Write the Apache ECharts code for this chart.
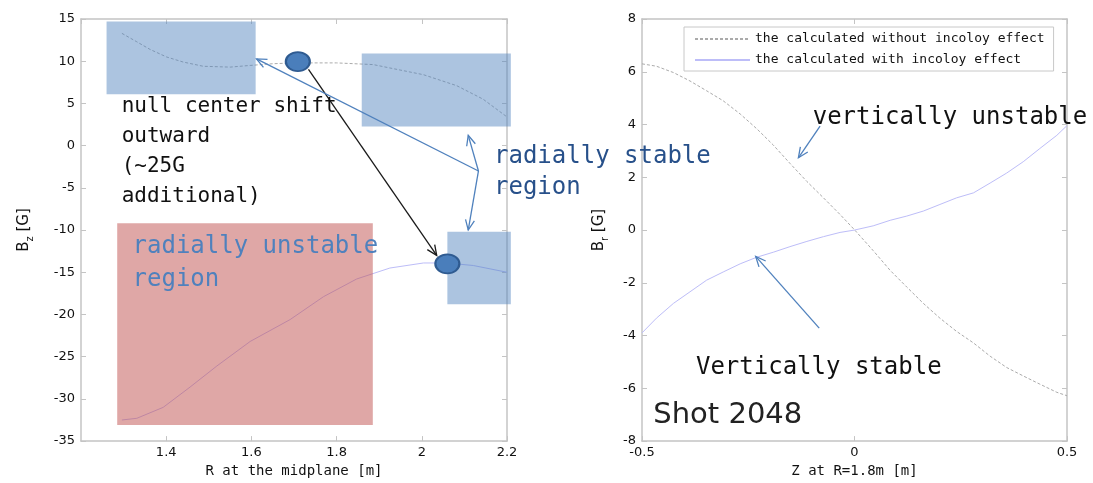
<!DOCTYPE html>
<html><head><meta charset="utf-8">
<script src="https://cdn.jsdelivr.net/npm/echarts@6/dist/echarts.min.js"></script>
<style>html,body{margin:0;padding:0;background:#fff}#c{width:1093px;height:483px}</style>
</head><body><div id="c"></div>
<script>
// ---------- data ----------
// Left panel: Bz [G] vs R at the midplane [m]
const leftXRange = [1.2, 2.2];
const leftYRange = [-35, 15];
const leftR_without = [1.296, 1.331, 1.362, 1.401, 1.440, 1.487, 1.550, 1.597, 1.650, 1.700, 1.738, 1.800, 1.886, 1.925, 2.004, 2.082, 2.144, 2.200];
const leftBz_without = [13.3, 12.3, 11.4, 10.5, 9.9, 9.4, 9.3, 9.5, 9.7, 9.8, 9.8, 9.8, 9.6, 9.2, 8.4, 7.1, 5.5, 3.4];
const leftR_with = [1.296, 1.331, 1.393, 1.456, 1.519, 1.597, 1.691, 1.769, 1.847, 1.925, 2.004, 2.058, 2.121, 2.200];
const leftBz_with = [-32.5, -32.3, -31.0, -28.6, -26.1, -23.2, -20.6, -17.9, -15.8, -14.5, -13.9, -13.9, -14.2, -15.0];
// shaded regions [R1, Bz1, R2, Bz2]
const stableRegions = [[1.260, 14.7, 1.610, 6.1], [1.859, 10.9, 2.209, 2.27], [2.060, -10.2, 2.209, -18.8]];
const unstableRegion = [[1.285, -9.2, 1.885, -33.1]];
// null centre markers [R, Bz]
const nullCenters = [[1.709, 9.96], [2.060, -14.0]];
// arrows [fromR, fromBz, toR, toBz]
const shiftArrow = [[1.734, 9.03, 2.035, -13.0]];
const stableArrows = [[2.133, -3.0, 1.612, 10.28], [2.133, -3.0, 2.109, 1.22], [2.133, -3.0, 2.109, -10.0]];

// Right panel: Br [G] vs Z at R=1.8m [m]
const rightXRange = [-0.5, 0.5];
const rightYRange = [-8, 8];
const rightZ = [-0.5, -0.466, -0.426, -0.387, -0.348, -0.309, -0.269, -0.230, -0.191, -0.152, -0.112, -0.073, -0.034, 0, 0.044, 0.084, 0.123, 0.162, 0.201, 0.240, 0.280, 0.319, 0.358, 0.397, 0.436, 0.476, 0.5];
const rightBr_without = [6.3, 6.21, 5.97, 5.65, 5.28, 4.90, 4.40, 3.84, 3.22, 2.53, 1.84, 1.22, 0.59, 0.01, -0.78, -1.53, -2.16, -2.78, -3.34, -3.84, -4.28, -4.78, -5.21, -5.53, -5.84, -6.15, -6.28];
const rightBr_with = [-3.90, -3.34, -2.78, -2.34, -1.90, -1.59, -1.28, -1.03, -0.84, -0.63, -0.43, -0.25, -0.09, 0.0, 0.16, 0.37, 0.53, 0.72, 0.97, 1.22, 1.41, 1.78, 2.16, 2.59, 3.09, 3.59, 3.96];
const rightArrows = [[-0.081, 3.94, -0.132, 2.74], [-0.083, -3.72, -0.2325, -1.00]];

const seriesNames = ['the calculated without incoloy effect', 'the calculated with incoloy effect'];
const leftXName = 'R at the midplane [m]';
const rightXName = 'Z at R=1.8m [m]';

// ---------- chart ----------
const MONO = '"DejaVu Sans Mono", monospace';
const SANS = '"DejaVu Sans", sans-serif';
const AX = '#c4c4c4';
const C_WITHOUT = '#ababab';
const C_WITH = '#bdbdf8';
const zip = (a, b) => a.map((v, i) => [v, b[i]]);

function xAxis(gi, range, interval, pos, label, name, showMin) {
  return {
    type: 'value', gridIndex: gi, min: range[0], max: range[1], interval, position: pos,
    axisLine: {show: true, onZero: false, lineStyle: {color: AX, width: 1.5}},
    axisTick: {show: true, inside: true, length: 5, lineStyle: {color: AX}},
    splitLine: {show: false},
    axisLabel: {show: label, showMinLabel: showMin, color: '#111', fontFamily: SANS, fontSize: 13, margin: 5},
    name: label ? name : '', nameLocation: 'middle', nameGap: 22,
    nameTextStyle: {fontFamily: MONO, fontSize: 14, color: '#111', verticalAlign: 'top'}
  };
}
function yAxis(gi, range, interval, pos, label, sub, gap) {
  return {
    type: 'value', gridIndex: gi, min: range[0], max: range[1], interval, position: pos,
    axisLine: {show: true, onZero: false, lineStyle: {color: AX, width: 1.5}},
    axisTick: {show: true, inside: true, length: 5, lineStyle: {color: AX}},
    splitLine: {show: false},
    axisLabel: {show: label, color: '#111', fontFamily: SANS, fontSize: 13, margin: 6},
    name: label ? '{n|B}{s|' + sub + '}{n| [G]}' : '', nameLocation: 'middle', nameGap: gap, nameRotate: 90,
    nameTextStyle: {color: '#111', rich: {
      n: {fontFamily: SANS, fontSize: 15, color: '#111', lineHeight: 22, verticalAlign: 'middle'},
      s: {fontFamily: SANS, fontSize: 10, color: '#111', lineHeight: 22, verticalAlign: 'bottom'}
    }}
  };
}

function rectSeries(xi, yi, data, color, opacity, z) {
  return {
    type: 'custom', xAxisIndex: xi, yAxisIndex: yi, silent: true, clip: false, z,
    dimensions: ['x1', 'y1', 'x2', 'y2'], encode: {x: [0, 2], y: [1, 3]}, data,
    renderItem: (p, api) => {
      const a = api.coord([api.value(0), api.value(1)]);
      const b = api.coord([api.value(2), api.value(3)]);
      return {type: 'rect', shape: {x: Math.min(a[0], b[0]), y: Math.min(a[1], b[1]), width: Math.abs(b[0] - a[0]), height: Math.abs(b[1] - a[1])},
        style: {fill: color, opacity}};
    }
  };
}
function arrowSeries(xi, yi, data, color, z) {
  return {
    type: 'custom', xAxisIndex: xi, yAxisIndex: yi, silent: true, clip: false, z,
    dimensions: ['x1', 'y1', 'x2', 'y2'], encode: {x: [0, 2], y: [1, 3]}, data,
    renderItem: (p, api) => {
      const a = api.coord([api.value(0), api.value(1)]);
      const b = api.coord([api.value(2), api.value(3)]);
      const ang = Math.atan2(b[1] - a[1], b[0] - a[0]);
      const L = 11, w = 0.42;
      const h1 = [b[0] - L * Math.cos(ang - w), b[1] - L * Math.sin(ang - w)];
      const h2 = [b[0] - L * Math.cos(ang + w), b[1] - L * Math.sin(ang + w)];
      return {type: 'group', children: [
        {type: 'line', shape: {x1: a[0], y1: a[1], x2: b[0], y2: b[1]}, style: {stroke: color, lineWidth: 1.3}},
        {type: 'polyline', shape: {points: [h1, b, h2]}, style: {stroke: color, lineWidth: 1.3, fill: null}}
      ]};
    }
  };
}
function textSeries(xi, yi, pos, text, font, color, lh) {
  return {
    type: 'custom', xAxisIndex: xi, yAxisIndex: yi, silent: true, clip: false, z: 10,
    data: [pos],
    renderItem: (p, api) => {
      const c = api.coord([api.value(0), api.value(1)]);
      return {type: 'text', x: c[0], y: c[1],
        style: {text, font, fill: color, align: 'left', verticalAlign: 'top', textAlign: 'left', textVerticalAlign: 'top', lineHeight: lh}};
    }
  };
}

const chart = echarts.init(document.getElementById('c'), null, {renderer: 'canvas'});
chart.setOption({
  animation: false,
  backgroundColor: '#fff',
  grid: [
    {left: 81, top: 19, width: 426, height: 427},
    {left: 642, top: 19, width: 425, height: 427}
  ],
  xAxis: [
    xAxis(0, leftXRange, 0.2, 'bottom', true, leftXName, false),
    xAxis(0, leftXRange, 0.2, 'top', false, '', false),
    xAxis(1, rightXRange, 0.5, 'bottom', true, rightXName, true),
    xAxis(1, rightXRange, 0.5, 'top', false, '', true)
  ],
  yAxis: [
    yAxis(0, leftYRange, 5, 'left', true, 'z', 46),
    yAxis(0, leftYRange, 5, 'right', false, 'z', 46),
    yAxis(1, rightYRange, 2, 'left', true, 'r', 32),
    yAxis(1, rightYRange, 2, 'right', false, 'r', 32)
  ],
  legend: {
    data: seriesNames, orient: 'vertical', left: 684, top: 27,
    padding: [5, 9, 4, 10], itemGap: 7, itemWidth: 55, itemHeight: 14,
    borderColor: '#c8c8c8', borderWidth: 1, backgroundColor: '#fff', selectedMode: false,
    itemStyle: {color: 'rgba(0,0,0,0)', borderColor: 'rgba(0,0,0,0)', borderWidth: 0, opacity: 0},
    textStyle: {fontFamily: MONO, fontSize: 13, color: '#111', lineHeight: 14}
  },
  series: [
    {name: 'left-without', type: 'line', xAxisIndex: 0, yAxisIndex: 0, data: zip(leftR_without, leftBz_without),
      symbol: 'none', silent: true, z: 2, lineStyle: {color: C_WITHOUT, width: 1, type: [3, 2]}},
    {name: 'left-with', type: 'line', xAxisIndex: 0, yAxisIndex: 0, data: zip(leftR_with, leftBz_with),
      symbol: 'none', silent: true, z: 2, lineStyle: {color: C_WITH, width: 1}},
    {name: seriesNames[0], type: 'line', xAxisIndex: 2, yAxisIndex: 2, data: zip(rightZ, rightBr_without),
      symbol: 'none', silent: true, z: 2, color: C_WITHOUT, lineStyle: {color: C_WITHOUT, width: 1, type: [3, 2]}},
    {name: seriesNames[1], type: 'line', xAxisIndex: 2, yAxisIndex: 2, data: zip(rightZ, rightBr_with),
      symbol: 'none', silent: true, z: 2, color: C_WITH, lineStyle: {color: C_WITH, width: 1}},
    rectSeries(0, 0, stableRegions, '#4f81bd', 0.47, 3),
    rectSeries(0, 0, unstableRegion, '#c0504d', 0.5, 3),
    arrowSeries(0, 0, shiftArrow, '#1a1a1a', 4),
    arrowSeries(0, 0, stableArrows, '#4f81bd', 4),
    arrowSeries(2, 2, rightArrows, '#4f81bd', 4),
    {name: 'null-center', type: 'scatter', xAxisIndex: 0, yAxisIndex: 0, data: nullCenters, silent: true, z: 6,
      symbol: 'circle', symbolSize: [24, 19], itemStyle: {color: '#4a7ebb', borderColor: '#2f5b91', borderWidth: 2, opacity: 1}},
    textSeries(0, 0, [1.2955, 6.38], 'null center shift\noutward\n(~25G\nadditional)', '21px ' + MONO, '#111', 30),
    textSeries(0, 0, [1.321, -10.06], 'radially unstable\nregion', '24px ' + MONO, '#4f81bd', 33),
    textSeries(0, 0, [2.1695, 0.48], 'radially stable\nregion', '24px ' + MONO, '#27508a', 31),
    textSeries(2, 2, [-0.0984, 4.83], 'vertically unstable', '24px ' + MONO, '#111', 30),
    textSeries(2, 2, [-0.373, -4.65], 'Vertically stable', '24px ' + MONO, '#111', 30),
    textSeries(2, 2, [-0.4734, -6.38], 'Shot 2048', '29px ' + SANS, '#222', 34)
  ]
});
</script>
</body></html>
